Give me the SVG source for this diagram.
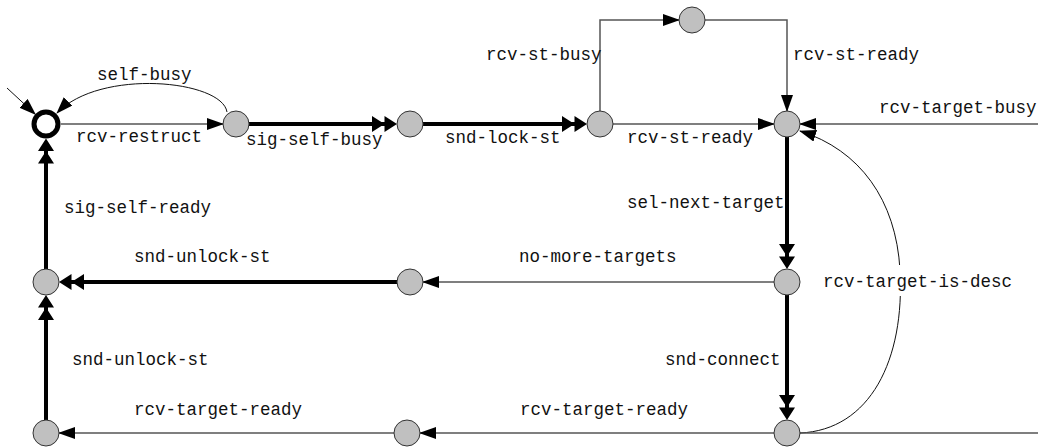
<svg xmlns="http://www.w3.org/2000/svg" width="1038" height="447" viewBox="0 0 1038 447">
  <style>
    .st { fill: #c0c0c0; stroke: #333; stroke-width: 1; }
    .init { fill: #fff; stroke: #000; stroke-width: 5; }
    .thin { fill: none; stroke: #555; stroke-width: 1.5; }
    .curve { fill: none; stroke: #111; stroke-width: 1; }
    .thick { fill: none; stroke: #000; stroke-width: 4; }
    .lbl { font-family: "Liberation Mono", "Courier New", monospace; font-size: 17.5px; fill: #111; }
  </style>
  <defs>
    <marker id="arr" markerWidth="18" markerHeight="12" refX="16" refY="6" orient="auto" markerUnits="userSpaceOnUse">
      <path d="M0,0 L17,6 L0,12 z" fill="#000"/>
    </marker>
    <marker id="arr2" markerWidth="26" markerHeight="16" refX="17" refY="8" orient="auto" markerUnits="userSpaceOnUse">
      <path d="M0,0 L12.5,8 L0,16 z M12.5,0 L25,8 L12.5,16 z" fill="#000"/>
    </marker>
  </defs>

  <rect width="1038" height="447" fill="#fff"/>

  <!-- connectors -->
  <g id="edges">
    <line class="curve" x1="7" y1="88" x2="35.3" y2="114.2" marker-end="url(#arr)"/>
    <path class="curve" d="M227,112 C222,80 100,68 57,113" marker-end="url(#arr)"/>
    <line class="thin" x1="61" y1="124" x2="223" y2="124" marker-end="url(#arr)"/>
    <line class="thick" x1="249" y1="124" x2="389" y2="124" marker-end="url(#arr2)"/>
    <line class="thick" x1="423" y1="124" x2="579" y2="124" marker-end="url(#arr2)"/>
    <path class="thin" d="M600,111 V20 H679" marker-end="url(#arr)"/>
    <path class="thin" d="M705,20 H787 V111" marker-end="url(#arr)"/>
    <line class="thin" x1="613" y1="124" x2="774" y2="124" marker-end="url(#arr)"/>
    <line class="thin" x1="1038" y1="124" x2="800" y2="124" marker-end="url(#arr)"/>
    <line class="thick" x1="787" y1="137" x2="787" y2="261" marker-end="url(#arr2)"/>
    <line class="thin" x1="774" y1="282" x2="423" y2="282" marker-end="url(#arr)"/>
    <line class="thick" x1="397" y1="282" x2="67" y2="282" marker-end="url(#arr2)"/>
    <line class="thick" x1="46" y1="269" x2="46" y2="146.5" marker-end="url(#arr2)"/>
    <line class="thick" x1="787" y1="295" x2="787" y2="412" marker-end="url(#arr2)"/>
    <path class="curve" d="M800,433 C870,430 905,360 900,270 C896,200 860,150 800,131" marker-end="url(#arr)"/>
    <line class="thin" x1="774" y1="433" x2="420" y2="433" marker-end="url(#arr)"/>
    <line class="thin" x1="394" y1="433" x2="59" y2="433" marker-end="url(#arr)"/>
    <line class="thin" x1="800" y1="433" x2="1038" y2="433"/>
    <line class="thick" x1="46" y1="420" x2="46" y2="303" marker-end="url(#arr2)"/>
  </g>

  <!-- labels -->
  <g id="labels" class="lbl">
    <text x="97" y="80">self-busy</text>
    <text x="76" y="142">rcv-restruct</text>
    <text x="246" y="145">sig-self-busy</text>
    <text x="445" y="143">snd-lock-st</text>
    <text x="486" y="60">rcv-st-busy</text>
    <text x="793" y="60">rcv-st-ready</text>
    <text x="627" y="143">rcv-st-ready</text>
    <text x="879" y="113">rcv-target-busy</text>
    <text x="627" y="208">sel-next-target</text>
    <rect x="812" y="265" width="211" height="31" fill="#fff"/>
    <text x="823" y="287">rcv-target-is-desc</text>
    <text x="519" y="262">no-more-targets</text>
    <text x="64" y="213">sig-self-ready</text>
    <text x="134" y="262">snd-unlock-st</text>
    <text x="665" y="365">snd-connect</text>
    <text x="72" y="365">snd-unlock-st</text>
    <text x="134" y="415">rcv-target-ready</text>
    <text x="520" y="415">rcv-target-ready</text>
  </g>

  <!-- states -->
  <g id="s0"><circle class="init" cx="46" cy="124" r="12"/></g>
  <g id="s1"><circle class="st" cx="236" cy="124" r="13"/></g>
  <g id="s2"><circle class="st" cx="410" cy="124" r="13"/></g>
  <g id="s3"><circle class="st" cx="600" cy="124" r="13"/></g>
  <g id="s4"><circle class="st" cx="692" cy="20" r="13"/></g>
  <g id="s5"><circle class="st" cx="787" cy="124" r="13"/></g>
  <g id="s6"><circle class="st" cx="787" cy="282" r="13"/></g>
  <g id="s7"><circle class="st" cx="410" cy="282" r="13"/></g>
  <g id="s8"><circle class="st" cx="46" cy="282" r="13"/></g>
  <g id="s9"><circle class="st" cx="787" cy="433" r="13"/></g>
  <g id="s10"><circle class="st" cx="407" cy="433" r="13"/></g>
  <g id="s11"><circle class="st" cx="46" cy="433" r="13"/></g>
</svg>
